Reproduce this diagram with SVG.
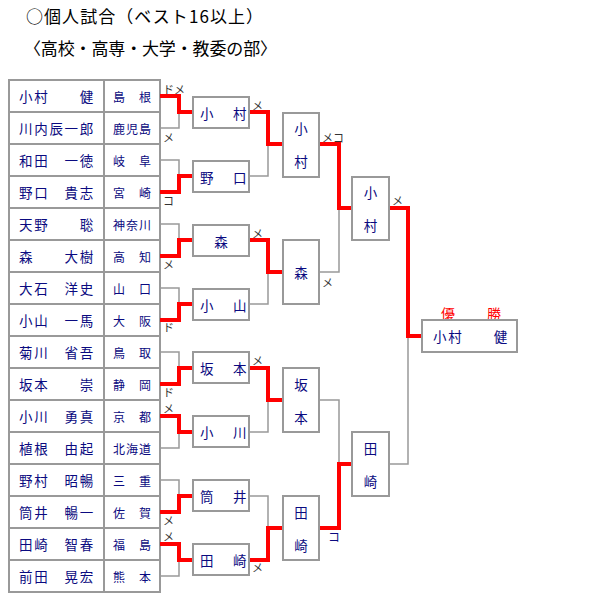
<svg xmlns="http://www.w3.org/2000/svg" width="600" height="600" viewBox="0 0 600 600">
<style>
text{font-family:"Noto Sans CJK JP","Noto Sans CJK SC",sans-serif}
.title{font-size:17px;fill:#000}
.cell{fill:#fff;stroke:#999;stroke-width:2}
.box{fill:#fff;stroke:#999;stroke-width:2}
.nm{font-size:13.5px;fill:#0a0a80;letter-spacing:1.7px;dominant-baseline:central}
.pf{font-size:12px;fill:#0a0a80;letter-spacing:1px;dominant-baseline:central}
.bx{font-size:13.5px;fill:#0a0a80;letter-spacing:3px;dominant-baseline:central}
.vc{font-size:13.5px;fill:#0a0a80;dominant-baseline:central;text-anchor:middle}
.lb{font-size:11px;fill:#333;dominant-baseline:central}
.gl{fill:none;stroke:#999;stroke-width:1.5}
.rl{fill:none;stroke:#f00;stroke-width:4}
.win{font-size:14px;fill:#f00;dominant-baseline:central;text-anchor:middle}
</style>
<text class="title" x="26" y="23" textLength="237" lengthAdjust="spacing">○個人試合（ベスト16以上）</text>
<text class="title" x="24" y="55" textLength="253" lengthAdjust="spacing">〈高校・高専・大学・教委の部〉</text>

<g id="table">
<g id="r0"><rect class="cell" x="9" y="80" width="95" height="32"/><rect class="cell" x="104" y="80" width="56" height="32"/><text class="nm" x="19" y="96">小村　　健</text><text class="pf" x="113" y="96">島　根</text></g>
<g id="r1"><rect class="cell" x="9" y="112" width="95" height="32"/><rect class="cell" x="104" y="112" width="56" height="32"/><text class="nm" x="19" y="128">川内辰一郎</text><text class="pf" x="113" y="128">鹿児島</text></g>
<g id="r2"><rect class="cell" x="9" y="144" width="95" height="32"/><rect class="cell" x="104" y="144" width="56" height="32"/><text class="nm" x="19" y="160">和田　一徳</text><text class="pf" x="113" y="160">岐　阜</text></g>
<g id="r3"><rect class="cell" x="9" y="176" width="95" height="32"/><rect class="cell" x="104" y="176" width="56" height="32"/><text class="nm" x="19" y="192">野口　貴志</text><text class="pf" x="113" y="192">宮　崎</text></g>
<g id="r4"><rect class="cell" x="9" y="208" width="95" height="32"/><rect class="cell" x="104" y="208" width="56" height="32"/><text class="nm" x="19" y="224">天野　　聡</text><text class="pf" x="113" y="224">神奈川</text></g>
<g id="r5"><rect class="cell" x="9" y="240" width="95" height="32"/><rect class="cell" x="104" y="240" width="56" height="32"/><text class="nm" x="19" y="256">森　　大樹</text><text class="pf" x="113" y="256">高　知</text></g>
<g id="r6"><rect class="cell" x="9" y="272" width="95" height="32"/><rect class="cell" x="104" y="272" width="56" height="32"/><text class="nm" x="19" y="288">大石　洋史</text><text class="pf" x="113" y="288">山　口</text></g>
<g id="r7"><rect class="cell" x="9" y="304" width="95" height="32"/><rect class="cell" x="104" y="304" width="56" height="32"/><text class="nm" x="19" y="320">小山　一馬</text><text class="pf" x="113" y="320">大　阪</text></g>
<g id="r8"><rect class="cell" x="9" y="336" width="95" height="32"/><rect class="cell" x="104" y="336" width="56" height="32"/><text class="nm" x="19" y="352">菊川　省吾</text><text class="pf" x="113" y="352">鳥　取</text></g>
<g id="r9"><rect class="cell" x="9" y="368" width="95" height="32"/><rect class="cell" x="104" y="368" width="56" height="32"/><text class="nm" x="19" y="384">坂本　　崇</text><text class="pf" x="113" y="384">静　岡</text></g>
<g id="r10"><rect class="cell" x="9" y="400" width="95" height="32"/><rect class="cell" x="104" y="400" width="56" height="32"/><text class="nm" x="19" y="416">小川　勇真</text><text class="pf" x="113" y="416">京　都</text></g>
<g id="r11"><rect class="cell" x="9" y="432" width="95" height="32"/><rect class="cell" x="104" y="432" width="56" height="32"/><text class="nm" x="19" y="448">植根　由起</text><text class="pf" x="113" y="448">北海道</text></g>
<g id="r12"><rect class="cell" x="9" y="464" width="95" height="32"/><rect class="cell" x="104" y="464" width="56" height="32"/><text class="nm" x="19" y="480">野村　昭暢</text><text class="pf" x="113" y="480">三　重</text></g>
<g id="r13"><rect class="cell" x="9" y="496" width="95" height="32"/><rect class="cell" x="104" y="496" width="56" height="32"/><text class="nm" x="19" y="512">筒井　暢一</text><text class="pf" x="113" y="512">佐　賀</text></g>
<g id="r14"><rect class="cell" x="9" y="528" width="95" height="32"/><rect class="cell" x="104" y="528" width="56" height="32"/><text class="nm" x="19" y="544">田崎　智春</text><text class="pf" x="113" y="544">福　島</text></g>
<g id="r15"><rect class="cell" x="9" y="560" width="95" height="32"/><rect class="cell" x="104" y="560" width="56" height="32"/><text class="nm" x="19" y="576">前田　晃宏</text><text class="pf" x="113" y="576">熊　本</text></g>
</g>

<g id="connectors">
<path class="gl" d="M160,128H179V112"/>
<path class="rl" d="M160,96H179V112H193"/>
<path class="gl" d="M160,160H179V176"/>
<path class="rl" d="M160,192H179V176H193"/>
<path class="gl" d="M160,224H179V240"/>
<path class="rl" d="M160,256H179V240H193"/>
<path class="gl" d="M160,288H179V304"/>
<path class="rl" d="M160,320H179V304H193"/>
<path class="gl" d="M160,352H179V368"/>
<path class="rl" d="M160,384H179V368H193"/>
<path class="gl" d="M160,448H179V432"/>
<path class="rl" d="M160,416H179V432H193"/>
<path class="gl" d="M160,480H179V496"/>
<path class="rl" d="M160,512H179V496H193"/>
<path class="gl" d="M160,576H179V560"/>
<path class="rl" d="M160,544H179V560H193"/>
<path class="gl" d="M249,176H268V144"/>
<path class="rl" d="M249,112H268V144H283"/>
<path class="gl" d="M249,304H268V272"/>
<path class="rl" d="M249,240H268V272H283"/>
<path class="gl" d="M249,432H268V400"/>
<path class="rl" d="M249,368H268V400H283"/>
<path class="gl" d="M249,496H268V528"/>
<path class="rl" d="M249,560H268V528H283"/>
<path class="gl" d="M319,272H339V208"/>
<path class="rl" d="M319,144H339V208H352"/>
<path class="gl" d="M319,400H339V464"/>
<path class="rl" d="M319,528H339V464H352"/>
<path class="gl" d="M389,464H408V336"/>
<path class="rl" d="M389,208H408V336H422"/>
</g>

<g id="labels">
<text class="lb" x="163" y="89">ドメ</text>
<text class="lb" x="163" y="137">メ</text>
<text class="lb" x="163" y="200">コ</text>
<text class="lb" x="163" y="264">メ</text>
<text class="lb" x="163" y="327">ド</text>
<text class="lb" x="163" y="392">ド</text>
<text class="lb" x="163" y="408">メ</text>
<text class="lb" x="163" y="520">メ</text>
<text class="lb" x="163" y="536">メ</text>
<text class="lb" x="252" y="105">メ</text>
<text class="lb" x="252" y="233">メ</text>
<text class="lb" x="252" y="360">メ</text>
<text class="lb" x="252" y="567">メ</text>
<text class="lb" x="322" y="137">メコ</text>
<text class="lb" x="322" y="282">メ</text>
<text class="lb" x="328" y="536" style="fill:#0a0a80;font-size:12px">コ</text>
<text class="lb" x="392" y="200">メ</text>
</g>

<g id="n1"><rect class="box" x="193" y="97" width="56" height="31"/><text class="bx" x="200" y="112.5">小　村</text></g>
<g id="n2"><rect class="box" x="193" y="161" width="56" height="31"/><text class="bx" x="200" y="176.5">野　口</text></g>
<g id="n3"><rect class="box" x="193" y="225" width="56" height="31"/><text class="vc" x="221" y="240.5">森</text></g>
<g id="n4"><rect class="box" x="193" y="289" width="56" height="31"/><text class="bx" x="200" y="304.5">小　山</text></g>
<g id="n5"><rect class="box" x="193" y="352" width="56" height="31"/><text class="bx" x="200" y="367.5">坂　本</text></g>
<g id="n6"><rect class="box" x="193" y="416" width="56" height="31"/><text class="bx" x="200" y="431.5">小　川</text></g>
<g id="n7"><rect class="box" x="193" y="480" width="56" height="31"/><text class="bx" x="200" y="495.5">筒　井</text></g>
<g id="n8"><rect class="box" x="193" y="544" width="56" height="31"/><text class="bx" x="200" y="559.5">田　崎</text></g>

<g id="q1"><rect class="box" x="283" y="113" width="36" height="64"/><text class="vc" x="301" y="128">小</text><text class="vc" x="301" y="161">村</text></g>
<g id="q2"><rect class="box" x="283" y="240" width="36" height="64"/><text class="vc" x="301" y="272">森</text></g>
<g id="q3"><rect class="box" x="283" y="368" width="36" height="64"/><text class="vc" x="301" y="383.5">坂</text><text class="vc" x="301" y="416.5">本</text></g>
<g id="q4"><rect class="box" x="283" y="496" width="36" height="64"/><text class="vc" x="301" y="511.5">田</text><text class="vc" x="301" y="544.5">崎</text></g>

<g id="s1"><rect class="box" x="352" y="177" width="37" height="63"/><text class="vc" x="370.5" y="192">小</text><text class="vc" x="370.5" y="225">村</text></g>
<g id="s2"><rect class="box" x="352" y="432" width="37" height="64"/><text class="vc" x="370.5" y="447.5">田</text><text class="vc" x="370.5" y="480.5">崎</text></g>

<g id="champion">
<text class="win" x="448" y="313">優</text>
<text class="win" x="494" y="313">勝</text>
<rect class="box" x="422" y="320" width="95" height="32"/>
<text class="nm" x="433" y="336">小村　　健</text>
</g>
</svg>
